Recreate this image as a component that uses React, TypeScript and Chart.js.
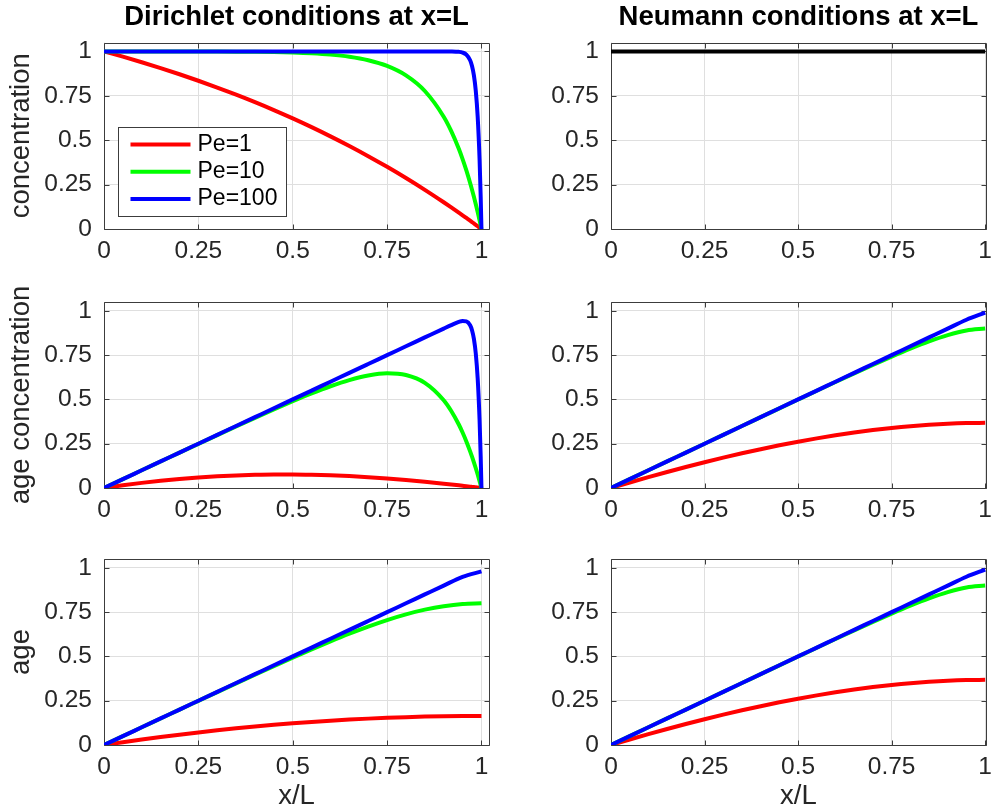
import React, { useEffect, useRef } from 'react';
import { Chart, registerables } from 'chart.js';

Chart.register(...registerables);

// ---------------- data ----------------
const PE_LABELS = ['Pe=1', 'Pe=10', 'Pe=100'];
const PE_COLORS = ['#ff0000', '#00ff00', '#0000ff'];
const TICK_VALUES = [0, 0.25, 0.5, 0.75, 1];
const TICK_LABELS = ['0', '0.25', '0.5', '0.75', '1'];

const TITLE_LEFT = 'Dirichlet conditions at x=L';
const TITLE_RIGHT = 'Neumann conditions at x=L';
const ROW_LABELS = ['concentration', 'age concentration', 'age'];
const X_LABEL = 'x/L';

const X_FINE = [0, 0.05, 0.1, 0.15, 0.2, 0.25, 0.3, 0.35, 0.4, 0.45, 0.5, 0.55, 0.6, 0.65, 0.7, 0.75, 0.8, 0.85, 0.9,
  0.92, 0.94, 0.95, 0.96, 0.97, 0.975, 0.98, 0.985, 0.99, 0.995, 0.998, 1];
const X_COARSE = [0, 0.05, 0.1, 0.15, 0.2, 0.25, 0.3, 0.35, 0.4, 0.45, 0.5, 0.55, 0.6, 0.65, 0.7, 0.75, 0.8, 0.85, 0.9, 0.95, 1];
const X_ENDS = [0, 1];

// Dirichlet: concentration (on X_FINE)
const D_CONC_PE1 = [1, 0.9702, 0.9388, 0.9058, 0.8711, 0.8347, 0.7964, 0.7561, 0.7138, 0.6693, 0.6225, 0.5733, 0.5215, 0.4672, 0.41, 0.3499, 0.2868, 0.2204, 0.1505,
  0.1216, 0.0921, 0.0772, 0.062, 0.0468, 0.0391, 0.0313, 0.0236, 0.0157, 0.0079, 0.0032, 0];
const D_CONC_PE10 = [1, 1, 0.9999, 0.9998, 0.9997, 0.9994, 0.9991, 0.9985, 0.9975, 0.9959, 0.9933, 0.9889, 0.9817, 0.9698, 0.9502, 0.9179, 0.8647, 0.7769, 0.6321,
  0.5507, 0.4512, 0.3935, 0.3297, 0.2592, 0.2212, 0.1813, 0.1393, 0.0952, 0.0488, 0.0198, 0];
const D_CONC_PE100 = [1, 1, 1, 1, 1, 1, 1, 1, 1, 1, 1, 1, 1, 1, 1, 1, 1, 1, 1,
  0.9997, 0.9975, 0.9933, 0.9817, 0.9502, 0.9179, 0.8647, 0.7769, 0.6321, 0.3935, 0.1813, 0];

// Dirichlet: age concentration (on X_FINE)
const D_AGEC_PE1 = [0, 0.0153, 0.0289, 0.0407, 0.0509, 0.0593, 0.0661, 0.0711, 0.0745, 0.0762, 0.0762, 0.0747, 0.0716, 0.0671, 0.0611, 0.0537, 0.0451, 0.0353, 0.0244,
  0.0198, 0.015, 0.0126, 0.0102, 0.0077, 0.0064, 0.0051, 0.0039, 0.0026, 0.0013, 0.0005, 0];
const D_AGEC_PE10 = [0, 0.0499, 0.0999, 0.1497, 0.1995, 0.2491, 0.2985, 0.3476, 0.3961, 0.4438, 0.49, 0.534, 0.5744, 0.6093, 0.6354, 0.6475, 0.6377, 0.5935, 0.4954,
  0.4348, 0.3583, 0.3132, 0.263, 0.207, 0.1768, 0.145, 0.1115, 0.0762, 0.0391, 0.0159, 0];
const D_AGEC_PE100 = [0, 0.05, 0.1, 0.15, 0.2, 0.25, 0.3, 0.35, 0.4, 0.45, 0.5, 0.55, 0.6, 0.65, 0.7, 0.75, 0.8, 0.85, 0.9,
  0.9196, 0.9374, 0.9429, 0.9408, 0.9187, 0.8909, 0.842, 0.7585, 0.6184, 0.3854, 0.1776, 0];

// Dirichlet: age (on X_COARSE)
const D_AGE_PE1 = [0, 0.0158, 0.0307, 0.045, 0.0584, 0.0711, 0.083, 0.094, 0.1043, 0.1138, 0.1225, 0.1303, 0.1373, 0.1436, 0.1489, 0.1535, 0.1572, 0.1602, 0.1623, 0.1636, 0.164];
const D_AGE_PE10 = [0, 0.0499, 0.0999, 0.1497, 0.1996, 0.2492, 0.2988, 0.3481, 0.3971, 0.4456, 0.4933, 0.54, 0.5851, 0.6283, 0.6687, 0.7054, 0.7375, 0.764, 0.7837, 0.796, 0.8];
const D_AGE_PE100 = [0, 0.05, 0.1, 0.15, 0.2, 0.25, 0.3, 0.35, 0.4, 0.45, 0.5, 0.55, 0.6, 0.65, 0.7, 0.75, 0.8, 0.85, 0.9, 0.9493, 0.98];

// Neumann: concentration (on X_ENDS)
const N_CONC = [1, 1];

// Neumann: age concentration and age (on X_COARSE)
const N_AGE_PE1 = [0, 0.0312, 0.0613, 0.0905, 0.1186, 0.1455, 0.1713, 0.1959, 0.2191, 0.241, 0.2614, 0.2803, 0.2976, 0.3132, 0.3271, 0.3391, 0.3492, 0.3572, 0.3631, 0.3667, 0.3679];
const N_AGE_PE10 = [0, 0.05, 0.1, 0.15, 0.2, 0.25, 0.3, 0.3498, 0.3998, 0.4496, 0.4993, 0.5489, 0.5982, 0.647, 0.695, 0.7418, 0.7865, 0.8277, 0.8632, 0.8894, 0.9];
const N_AGE_PE100 = [0, 0.05, 0.1, 0.15, 0.2, 0.25, 0.3, 0.35, 0.4, 0.45, 0.5, 0.55, 0.6, 0.65, 0.7, 0.75, 0.8, 0.85, 0.9, 0.9499, 0.99];

// ---------------- style / layout ----------------
const FONT = '"Liberation Sans", Arial, Helvetica, sans-serif';
const TEXT = '#262626';
const GRID = 'rgb(223,223,223)';
const FRAME = 'rgb(60,60,60)';
const LINE_W = 4;

const COLS = [
  { left: 0, width: 520, axisW: 104, padR: 31, xmax: 1.02 },
  { left: 520, width: 480, axisW: 91, padR: 12, xmax: 1.002 },
];
const ROWS = [
  { top: 0, height: 270, padT: 0, axisH: 41 },
  { top: 270, height: 260, padT: 32, axisH: 42 },
  { top: 530, height: 290, padT: 29, axisH: 75 },
];

type Series = { label: string; color: string; xs: number[]; ys: number[] };
type PanelCfg = { row: number; col: number; title?: string; ylabel?: string; xlabel?: string; legend?: boolean; series: Series[] };

const tri = (xs: number[], a: number[], b: number[], c: number[]): Series[] => [
  { label: PE_LABELS[0], color: PE_COLORS[0], xs, ys: a },
  { label: PE_LABELS[1], color: PE_COLORS[1], xs, ys: b },
  { label: PE_LABELS[2], color: PE_COLORS[2], xs, ys: c },
];

const PANELS: PanelCfg[] = [
  { row: 0, col: 0, title: TITLE_LEFT, ylabel: ROW_LABELS[0], legend: true, series: tri(X_FINE, D_CONC_PE1, D_CONC_PE10, D_CONC_PE100) },
  { row: 0, col: 1, title: TITLE_RIGHT, series: [{ label: 'concentration', color: '#000000', xs: X_ENDS, ys: N_CONC }] },
  { row: 1, col: 0, ylabel: ROW_LABELS[1], series: tri(X_FINE, D_AGEC_PE1, D_AGEC_PE10, D_AGEC_PE100) },
  { row: 1, col: 1, series: tri(X_COARSE, N_AGE_PE1, N_AGE_PE10, N_AGE_PE100) },
  { row: 2, col: 0, ylabel: ROW_LABELS[2], xlabel: X_LABEL, series: tri(X_COARSE, D_AGE_PE1, D_AGE_PE10, D_AGE_PE100) },
  { row: 2, col: 1, xlabel: X_LABEL, series: tri(X_COARSE, N_AGE_PE1, N_AGE_PE10, N_AGE_PE100) },
];

const fmtTick = (v: number) => {
  const i = TICK_VALUES.indexOf(v);
  return i >= 0 ? TICK_LABELS[i] : String(v);
};

function buildConfig(p: PanelCfg): any {
  const col = COLS[p.col];
  const row = ROWS[p.row];

  const framePlugin = {
    id: 'frameTicks',
    beforeDatasetsDraw(chart: any) {
      const { ctx, chartArea: a, scales } = chart;
      const L = Math.round(a.left) + 0.5;
      const R = Math.round(a.right) + 0.5;
      const T = Math.round(a.top) + 0.5;
      const B = Math.round(a.bottom) + 0.5;
      ctx.save();
      ctx.strokeStyle = FRAME;
      ctx.lineWidth = 1;
      ctx.beginPath();
      ctx.rect(L, T, R - L, B - T);
      TICK_VALUES.forEach((v) => {
        const px = Math.round(scales.x.getPixelForValue(v)) + 0.5;
        ctx.moveTo(px, B); ctx.lineTo(px, B - 5);
        ctx.moveTo(px, T); ctx.lineTo(px, T + 5);
        const py = Math.round(scales.y.getPixelForValue(v)) + 0.5;
        ctx.moveTo(L, py); ctx.lineTo(L + 5, py);
        ctx.moveTo(R, py); ctx.lineTo(R - 5, py);
      });
      ctx.stroke();
      ctx.restore();
    },
    afterDraw(chart: any) {
      if (!p.ylabel) return;
      const { ctx, chartArea: a } = chart;
      ctx.save();
      ctx.translate(21.5, (a.top + a.bottom) / 2);
      ctx.rotate(-Math.PI / 2);
      ctx.font = `27.5px ${FONT}`;
      ctx.fillStyle = TEXT;
      ctx.textAlign = 'center';
      ctx.textBaseline = 'middle';
      ctx.fillText(p.ylabel, 0, 0);
      ctx.restore();
    },
  };

  const legendPlugin = {
    id: 'innerLegend',
    afterDatasetsDraw(chart: any) {
      if (!p.legend) return;
      const { ctx, chartArea: a } = chart;
      const w = 168, h = 89;
      const bx = Math.round(a.left + 14) + 0.5;
      const by = Math.round(a.bottom - 13 - h) + 0.5;
      ctx.save();
      ctx.fillStyle = '#ffffff';
      ctx.fillRect(bx, by, w, h);
      ctx.strokeStyle = FRAME;
      ctx.lineWidth = 1;
      ctx.strokeRect(bx, by, w, h);
      ctx.font = `23px ${FONT}`;
      ctx.textAlign = 'left';
      ctx.textBaseline = 'middle';
      chart.data.datasets.forEach((ds: any, i: number) => {
        const y = by + 17 + i * 27.3;
        ctx.strokeStyle = ds.borderColor;
        ctx.lineWidth = LINE_W;
        ctx.beginPath();
        ctx.moveTo(bx + 12, y);
        ctx.lineTo(bx + 72, y);
        ctx.stroke();
        ctx.fillStyle = '#000000';
        ctx.fillText(ds.label, bx + 79, y);
      });
      ctx.restore();
    },
  };

  const n = p.series.length;
  const datasets = p.series.map((s, k) => ({
    label: s.label,
    data: s.xs.map((x, i) => ({ x, y: s.ys[i] })),
    borderColor: s.color,
    backgroundColor: s.color,
    borderWidth: LINE_W,
    pointRadius: 0,
    pointHoverRadius: 0,
    fill: false,
    cubicInterpolationMode: 'monotone',
    // later series are drawn on top (as in the reference)
    order: n - 1 - k,
  }));

  const tickFont = { family: FONT, size: 24.5 };

  return {
    type: 'line',
    data: { datasets },
    plugins: [framePlugin, legendPlugin],
    options: {
      animation: false,
      responsive: false,
      devicePixelRatio: 1,
      events: [],
      layout: { padding: { top: row.padT, right: col.padR, bottom: 0, left: 0 } },
      plugins: {
        legend: { display: false },
        tooltip: { enabled: false },
        title: p.title
          ? {
              display: true,
              text: p.title,
              fullSize: false,
              color: '#000000',
              font: { family: FONT, size: 27.5, weight: 'bold', lineHeight: 1 },
              padding: { top: 4, bottom: 11 },
            }
          : { display: false },
      },
      scales: {
        x: {
          type: 'linear',
          bounds: 'data',
          min: 0,
          max: col.xmax,
          afterBuildTicks: (s: any) => { s.ticks = TICK_VALUES.map((v) => ({ value: v })); },
          afterFit: (s: any) => { s.height = row.axisH; },
          grid: { color: GRID, lineWidth: 1, drawTicks: false },
          border: { display: false },
          ticks: { color: TEXT, font: tickFont, padding: 8, maxRotation: 0, autoSkip: false, callback: (v: number) => fmtTick(v) },
          title: p.xlabel
            ? { display: true, text: p.xlabel, color: TEXT, font: { family: FONT, size: 27.5, lineHeight: 1 }, padding: { top: 0, bottom: 10 } }
            : { display: false },
        },
        y: {
          type: 'linear',
          bounds: 'data',
          min: 0,
          max: 1.05,
          afterBuildTicks: (s: any) => { s.ticks = TICK_VALUES.map((v) => ({ value: v })); },
          afterFit: (s: any) => { s.width = col.axisW; },
          grid: { color: GRID, lineWidth: 1, drawTicks: false },
          border: { display: false },
          ticks: { color: TEXT, font: tickFont, padding: 12, autoSkip: false, callback: (v: number) => fmtTick(v) },
        },
      },
    },
  };
}

function Panel({ cfg }: { cfg: PanelCfg }) {
  const ref = useRef<HTMLCanvasElement>(null);
  const col = COLS[cfg.col];
  const row = ROWS[cfg.row];
  useEffect(() => {
    const chart = new Chart(ref.current as HTMLCanvasElement, buildConfig(cfg));
    return () => chart.destroy();
  }, [cfg]);
  return (
    <canvas
      ref={ref}
      width={col.width}
      height={row.height}
      style={{ position: 'absolute', left: col.left, top: row.top, width: col.width, height: row.height, display: 'block' }}
    />
  );
}

export default function App() {
  return (
    <div style={{ position: 'absolute', left: 0, top: 0, width: 993, height: 812, overflow: 'hidden', background: '#ffffff' }}>
      {PANELS.map((p, i) => (
        <Panel key={i} cfg={p} />
      ))}
    </div>
  );
}
